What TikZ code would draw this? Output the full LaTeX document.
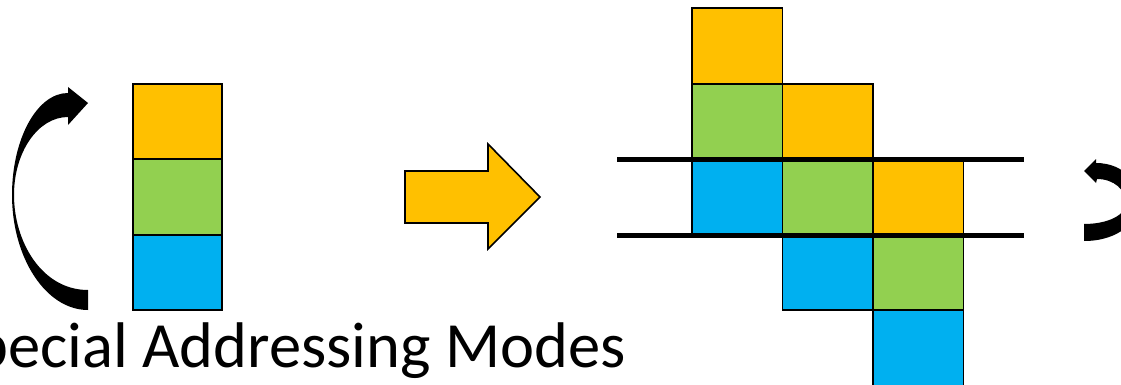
\documentclass[tikz,border=0pt]{standalone}
\usepackage{fontspec}
\setmainfont{Carlito}
\definecolor{cOrange}{HTML}{FFC000}
\definecolor{cGreen}{HTML}{92D050}
\definecolor{cBlue}{HTML}{00B0F0}
\begin{document}
\begin{tikzpicture}[x=1pt,y=-1pt,
  cell/.style={draw=black,line width=1.6pt,inner sep=0pt,outer sep=0pt,
    minimum width=90.5pt,minimum height=75.5pt},
  narrowcell/.style={cell,minimum width=89pt},
  rail/.style={draw=black,line width=5pt},
  bentarrow/.style={fill=black,draw=none},
  blockarrow/.style={fill=cOrange,draw=black,line width=1.6pt,line join=miter}]
\useasboundingbox (0,0) rectangle (1121,385);
\clip (0,0) rectangle (1121,385);

% curved arrow on the left
\path[bentarrow]
  (88,310) -- (88,290)
  .. controls (42,290) and (14,242) .. (14,195)
  .. controls (14,152) and (38,117) .. (68,117)
  -- (68,125) -- (88,103) -- (68,87) -- (68,93)
  .. controls (37,93) and (12,139) .. (12,195)
  .. controls (12,258) and (46,310) .. (88,310) -- cycle;

% original stack of three items
\node[narrowcell,fill=cOrange] (a1) at (177.5,121.5) {};
\node[narrowcell,fill=cGreen]  (a2) at (177.5,197)   {};
\node[narrowcell,fill=cBlue]   (a3) at (177.5,272.5) {};

% block arrow between the two parts
\path[blockarrow] (405,171) -- (488,171) -- (488,144) -- (540,197)
  -- (488,249) -- (488,223) -- (405,223) -- cycle;

% staggered columns
\node[cell,fill=cOrange] (b1) at (737.25,46)    {};
\node[cell,fill=cGreen]  (b2) at (737.25,121.5) {};
\node[cell,fill=cBlue]   (b3) at (737.25,197)   {};
\node[cell,fill=cOrange] (c1) at (827.75,121.5) {};
\node[cell,fill=cGreen]  (c2) at (827.75,197)   {};
\node[cell,fill=cBlue]   (c3) at (827.75,272.5) {};
\node[cell,fill=cOrange] (d1) at (918.25,197)   {};
\node[cell,fill=cGreen]  (d2) at (918.25,272.5) {};
\node[cell,fill=cBlue,minimum height=80pt] (d3) at (918.25,350.5) {};

% horizontal rails across the middle row
\coordinate (r1a) at (617,159);
\coordinate (r1b) at (1024,159);
\coordinate (r2a) at (617,235);
\coordinate (r2b) at (1024,235);
\draw[rail] (r1a) -- (r1b);
\draw[rail] (r2a) -- (r2b);

% curved arrow on the right edge
\path[bentarrow]
  (1084,241) -- (1084,224)
  .. controls (1108,224) and (1126,215) .. (1126,203)
  .. controls (1126,190) and (1114,179) .. (1097,179)
  -- (1096,183) -- (1084,171) -- (1096,159) -- (1096,163)
  .. controls (1125,163) and (1140,185) .. (1140,200)
  .. controls (1140,220) and (1120,241) .. (1084,241) -- cycle;

% title
\node[anchor=base east,inner sep=0pt] (title) at (626,367)
  {\fontsize{64.5}{77}\selectfont Special Addressing Modes};
\end{tikzpicture}
\end{document}
